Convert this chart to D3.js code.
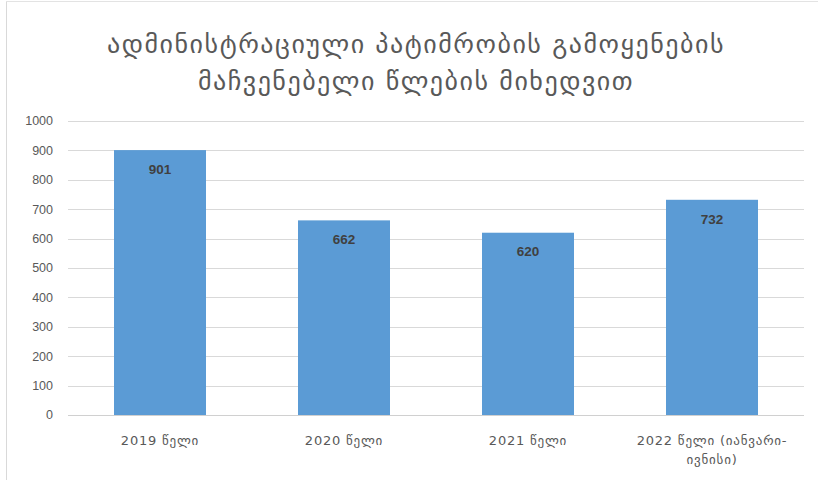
<!DOCTYPE html>
<html>
<head>
<meta charset="utf-8">
<script src="https://cdn.jsdelivr.net/npm/d3@7"></script>
<style>
  body { margin: 0; background: #fff; }
  svg { display: block; }
</style>
</head>
<body>
<div id="chart"></div>
<script>
const titleLines = ['ადმინისტრაციული პატიმრობის გამოყენების', 'მაჩვენებელი წლების მიხედვით']
const categories = ['2019 წელი', '2020 წელი', '2021 წელი', '2022 წელი (იანვარი-ივნისი)']
const categoryLines = [['2019 წელი'], ['2020 წელი'], ['2021 წელი'], ['2022 წელი (იანვარი-', 'ივნისი)']]
const values = [901, 662, 620, 732]
const yTicks = [0, 100, 200, 300, 400, 500, 600, 700, 800, 900, 1000]

const width = 818
const height = 480
const marginLeft = 68
const marginRight = 14
const marginTop = 121
const marginBottom = 65

const svg = d3.select('#chart')
  .append('svg')
  .attr('width', width)
  .attr('height', height)

// frame lines (left and top)
svg.append('line').attr('x1', 6.5).attr('x2', 6.5).attr('y1', 1).attr('y2', height)
  .attr('stroke', '#d9d9d9')
svg.append('line').attr('x1', 6).attr('x2', width).attr('y1', 1.5).attr('y2', 1.5)
  .attr('stroke', '#e3e3e3')

const x = d3.scaleBand()
  .domain(categories)
  .range([marginLeft, width - marginRight])
  .paddingInner(0.5)
  .paddingOuter(0.25)

const y = d3.scaleLinear()
  .domain([0, 1000])
  .range([height - marginBottom, marginTop])

// title
svg.append('g')
  .selectAll('text')
  .data(titleLines)
  .join('text')
  .attr('x', 416)
  .attr('y', (d, i) => 53 + i * 37)
  .attr('text-anchor', 'middle')
  .attr('font-family', 'DejaVu Sans')
  .attr('font-size', 26)
  .attr('letter-spacing', 1.5)
  .attr('fill', '#595959')
  .text(d => d)

// grid
svg.append('g')
  .selectAll('line')
  .data(yTicks)
  .join('line')
  .attr('x1', marginLeft)
  .attr('x2', width - marginRight)
  .attr('y1', d => Math.round(y(d)) + 0.5)
  .attr('y2', d => Math.round(y(d)) + 0.5)
  .attr('stroke', d => (d === 0 ? '#d0d0d0' : '#d9d9d9'))
  .attr('stroke-width', 1)

// y tick labels
svg.append('g')
  .selectAll('text')
  .data(yTicks)
  .join('text')
  .attr('x', 53)
  .attr('y', d => y(d))
  .attr('dy', '0.35em')
  .attr('text-anchor', 'end')
  .attr('font-family', 'Liberation Sans, Arial, sans-serif')
  .attr('font-size', 12.5)
  .attr('fill', '#595959')
  .text(d => d)

// bars
svg.append('g')
  .selectAll('rect')
  .data(values)
  .join('rect')
  .attr('x', (d, i) => x(categories[i]))
  .attr('y', d => y(d))
  .attr('width', x.bandwidth())
  .attr('height', d => y(0) - y(d))
  .attr('fill', '#5b9bd5')

// value labels
svg.append('g')
  .selectAll('text')
  .data(values)
  .join('text')
  .attr('x', (d, i) => x(categories[i]) + x.bandwidth() / 2)
  .attr('y', d => y(d) + 19)
  .attr('dy', '0.35em')
  .attr('text-anchor', 'middle')
  .attr('font-family', 'Liberation Sans, Arial, sans-serif')
  .attr('font-weight', 'bold')
  .attr('font-size', 13.5)
  .attr('fill', '#404040')
  .text(d => d)

// category labels
const catGroup = svg.append('g')
categoryLines.forEach((lines, i) => {
  catGroup.append('text')
    .attr('x', x(categories[i]) + x.bandwidth() / 2)
    .attr('y', 445)
    .attr('text-anchor', 'middle')
    .attr('font-family', 'DejaVu Sans')
    .attr('font-size', 13)
    .attr('letter-spacing', 0.8)
    .attr('fill', '#595959')
    .selectAll('tspan')
    .data(lines)
    .join('tspan')
    .attr('x', x(categories[i]) + x.bandwidth() / 2)
    .attr('dy', (d, j) => (j === 0 ? 0 : 19))
    .text(d => d)
})
</script>
</body>
</html>
